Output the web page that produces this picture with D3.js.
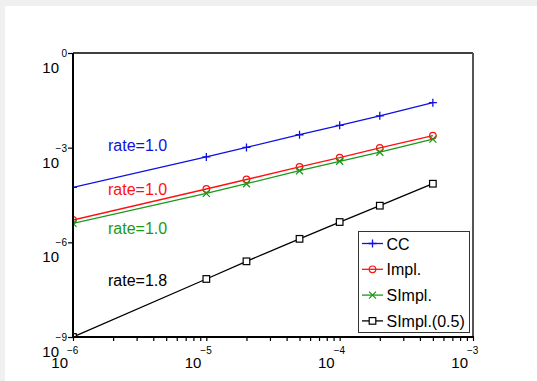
<!DOCTYPE html>
<html>
<head>
<meta charset="utf-8">
<script src="https://cdn.jsdelivr.net/npm/d3@7"></script>
<style>
  body { margin: 0; background: #f0f0f0; }
  svg text { font-family: "Liberation Sans", Arial, sans-serif; }
</style>
</head>
<body>
<div id="chart"></div>
<script>
// step sizes (h) and errors per method
const hValues = [1e-6, 1e-5, 2e-5, 5e-5, 1e-4, 2e-4, 5e-4]
const errCC = [5.5e-5, 5.1e-4, 1.02e-3, 2.57e-3, 5.1e-3, 1.02e-2, 2.66e-2]
const errImpl = [5.1e-6, 4.9e-5, 9.8e-5, 2.45e-4, 4.8e-4, 9.8e-4, 2.4e-3]
const errSImpl = [4.0e-6, 3.55e-5, 7.2e-5, 1.86e-4, 3.7e-4, 7.2e-4, 1.86e-3]
const errSImpl05 = [1.0e-9, 6.9e-8, 2.5e-7, 1.29e-6, 4.4e-6, 1.45e-5, 7.2e-5]
const seriesNames = ['CC', 'Impl.', 'SImpl.', 'SImpl.(0.5)']
const rateLabels = ['rate=1.0', 'rate=1.0', 'rate=1.0', 'rate=1.8']
const xTickExp = [-6, -5, -4, -3]
const yTickExp = [0, -3, -6, -9]

const width = 537, height = 381
const m = { left: 73, right: 64, top: 53, bottom: 44 }

const svg = d3.select('#chart').append('svg').attr('width', width).attr('height', height)
svg.append('rect').attr('x', 5).attr('y', 6).attr('width', width - 5).attr('height', height - 6).attr('fill', '#fff')

const x = d3.scaleLog().domain([1e-6, 1e-3]).range([m.left, width - m.right])
const y = d3.scaleLog().domain([1e-9, 1e0]).range([height - m.bottom, m.top])

const series = [
  { name: seriesNames[0], values: errCC, color: '#1010e0', marker: 'plus', rate: rateLabels[0] },
  { name: seriesNames[1], values: errImpl, color: '#ff1010', marker: 'circle', rate: rateLabels[1] },
  { name: seriesNames[2], values: errSImpl, color: '#189a18', marker: 'cross', rate: rateLabels[2] },
  { name: seriesNames[3], values: errSImpl05, color: '#000', marker: 'square', rate: rateLabels[3] }
]

svg.append('clipPath').attr('id', 'clip').append('rect')
  .attr('x', m.left).attr('y', m.top)
  .attr('width', x.range()[1] - m.left).attr('height', y.range()[0] - m.top)

const drawMarker = (g, type, cx, cy, color) => {
  if (type === 'plus') {
    g.append('path').attr('d', `M${cx - 4},${cy}H${cx + 4}M${cx},${cy - 4}V${cy + 4}`).attr('stroke', color).attr('stroke-width', 1.3)
  } else if (type === 'circle') {
    g.append('circle').attr('cx', cx).attr('cy', cy).attr('r', 3.3).attr('fill', 'none').attr('stroke', color).attr('stroke-width', 1.2)
  } else if (type === 'cross') {
    g.append('path').attr('d', `M${cx - 3.5},${cy - 3.5}L${cx + 3.5},${cy + 3.5}M${cx - 3.5},${cy + 3.5}L${cx + 3.5},${cy - 3.5}`).attr('stroke', color).attr('stroke-width', 1.3)
  } else {
    g.append('rect').attr('x', cx - 3.3).attr('y', cy - 3.3).attr('width', 6.6).attr('height', 6.6).attr('fill', '#fff').attr('stroke', color).attr('stroke-width', 1.2)
  }
}

const line = d3.line().x(d => x(d[0])).y(d => y(d[1]))
const plot = svg.append('g').attr('clip-path', 'url(#clip)')
series.forEach(s => {
  const pts = hValues.map((h, i) => [h, s.values[i]])
  plot.append('path').datum(pts).attr('d', line).attr('fill', 'none').attr('stroke', s.color).attr('stroke-width', 1.3)
  pts.forEach(p => drawMarker(plot, s.marker, x(p[0]), y(p[1]), s.color))
})

// rate annotations
const rateY = [151, 195, 234, 286]
series.forEach((s, i) => {
  svg.append('text').attr('x', 108).attr('y', rateY[i]).attr('fill', s.color).attr('font-size', 16).text(s.rate)
})

// frame
const x0 = m.left, x1 = x.range()[1], y0 = m.top, y1 = y.range()[0]
svg.append('path').attr('d', `M${x0},${y0}H${x1}`).attr('stroke', '#000').attr('stroke-width', 1.5)
svg.append('path').attr('d', `M${x1},${y0}V${y1}`).attr('stroke', '#555').attr('stroke-width', 2)

// x axis
const xMinor = []
for (let e = -6; e < -3; e++) for (let k = 1; k < 10; k++) xMinor.push(k * Math.pow(10, e))
xMinor.push(1e-3)
svg.append('g').attr('transform', `translate(0,${y1})`)
  .call(d3.axisBottom(x).tickValues(xMinor).tickSize(4).tickFormat(''))
  .call(g => g.select('.domain').attr('stroke-width', 2).attr('d', `M${x0 - 1},0H${x1 + 1}`))
  .call(g => g.selectAll('.tick line').attr('stroke-width', 1.2))

xTickExp.forEach(e => {
  const px = x(Math.pow(10, e))
  svg.append('text').attr('x', px - 5).attr('y', y1 + 31).attr('text-anchor', 'end').attr('font-size', 15).text('10')
  svg.append('text').attr('x', px - 6).attr('y', y1 + 17).attr('font-size', 10).text('\u2212' + (-e))
})

// y axis
svg.append('g').attr('transform', `translate(${x0},0)`)
  .call(d3.axisLeft(y).tickValues(yTickExp.map(e => Math.pow(10, e))).tickSize(5).tickFormat(''))
  .call(g => g.select('.domain').attr('stroke-width', 2).attr('d', `M0,${y0}V${y1}`))
  .call(g => g.selectAll('.tick line').attr('stroke-width', 1.2))

yTickExp.forEach(e => {
  const py = y(Math.pow(10, e))
  svg.append('text').attr('x', 59).attr('y', py + 20).attr('text-anchor', 'end').attr('font-size', 15).text('10')
  svg.append('text').attr('x', 67).attr('y', py + 4).attr('text-anchor', 'end').attr('font-size', 10).text(e === 0 ? '0' : '\u2212' + (-e))
})

// legend
const lg = svg.append('g')
lg.append('rect').attr('x', 358.5).attr('y', 231.5).attr('width', 111).attr('height', 101)
  .attr('fill', '#fff').attr('stroke', '#333').attr('stroke-width', 1)
series.forEach((s, i) => {
  const ly = 243.5 + i * 25.8
  lg.append('path').attr('d', `M362,${ly}H383`).attr('stroke', s.color).attr('stroke-width', 1.3)
  drawMarker(lg, s.marker, 372.5, ly, s.color)
  lg.append('text').attr('x', 386.5).attr('y', ly + 6).attr('font-size', 16).attr('fill', '#000').text(s.name)
})
</script>
</body>
</html>
